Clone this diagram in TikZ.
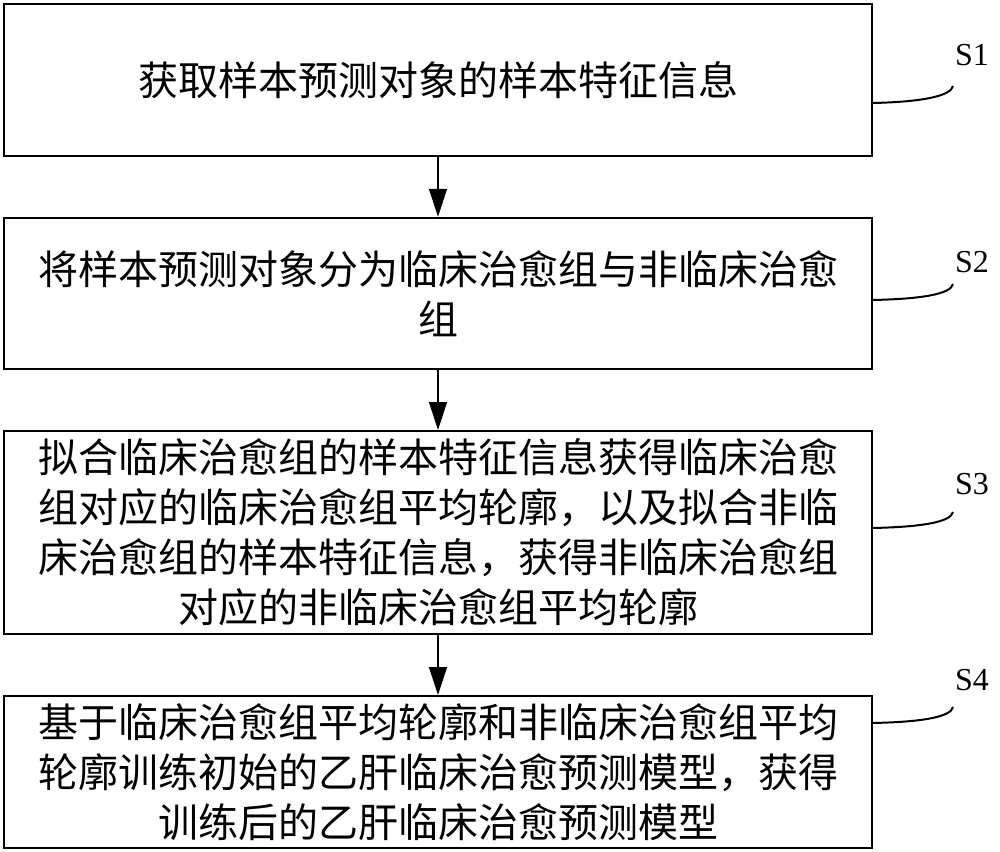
\documentclass[tikz,border=0pt]{standalone}
\usepackage{fontspec}
\newfontfamily\cjk{Noto Sans CJK SC}
\newfontfamily\labfont{Liberation Serif}
\usetikzlibrary{arrows.meta,calc}
\begin{document}
\begin{tikzpicture}[x=1pt,y=-1pt,
  stepbox/.style={draw=black, line width=2pt, minimum width=868pt, text width=806pt,
    align=center, inner sep=0pt, font=\cjk\fontsize{40pt}{50pt}\selectfont},
  flow/.style={line width=1.3pt, -{Triangle[length=28pt,width=18pt]}},
  leader/.style={line width=2pt},
  steplabel/.style={font=\labfont\fontsize{32pt}{36pt}\selectfont, inner sep=0pt}
]
\useasboundingbox (0,0) rectangle (1000,851);
\fill[white] (0,0) rectangle (1000,851);

\node[stepbox, minimum height=152pt] (b1) at (438,80) {获取样本预测对象的样本特征信息};
\node[stepbox, minimum height=151.5pt] (b2) at (438,293.5) {将样本预测对象分为临床治愈组与非临床治愈\\组};
\node[stepbox, minimum height=203pt] (b3) at (438,532.5) {拟合临床治愈组的样本特征信息获得临床治愈\\组对应的临床治愈组平均轮廓，以及拟合非临\\床治愈组的样本特征信息，获得非临床治愈组\\对应的非临床治愈组平均轮廓};
\node[stepbox, minimum height=152pt] (b4) at (438,772) {基于临床治愈组平均轮廓和非临床治愈组平均\\轮廓训练初始的乙肝临床治愈预测模型，获得\\训练后的乙肝临床治愈预测模型};

\draw[flow] (b1.south) -- (b2.north);
\draw[flow] (b2.south) -- (b3.north);
\draw[flow] (b3.south) -- (b4.north);

\node[steplabel] (s1) at (972,55) {S1};
\node[steplabel] (s2) at (972,262) {S2};
\node[steplabel] (s3) at (972,484) {S3};
\node[steplabel] (s4) at (972,680) {S4};

\coordinate (a1) at (872,103); \coordinate (e1) at (953,86);
\coordinate (a2) at (872,300); \coordinate (e2) at (953,284);
\coordinate (a3) at (872,528); \coordinate (e3) at (953,512);
\coordinate (a4) at (872,723); \coordinate (e4) at (953,707);
\foreach \i in {1,2,3,4}{
  \draw[leader] (a\i) .. controls ($(a\i)+(50,-1)$) and ($(e\i)+(-2,10)$) .. (e\i);
}
\end{tikzpicture}
\end{document}
